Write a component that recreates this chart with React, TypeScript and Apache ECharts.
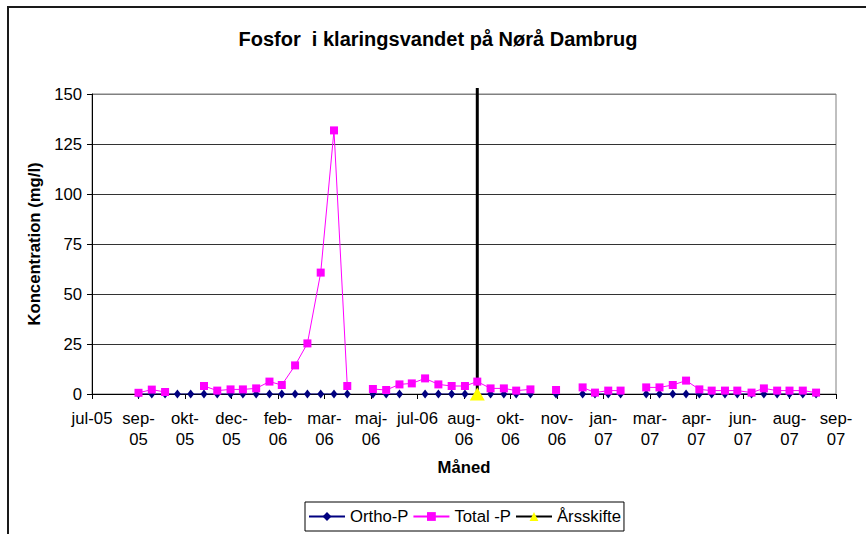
import React, { useEffect, useRef } from "react";
import * as echarts from "echarts";

// Axis tick labels (x axis: every 49 days from the jul-05 start)
const tickLabels = [
  "jul-05", "sep-\n05", "okt-\n05", "dec-\n05", "feb-\n06", "mar-\n06", "maj-\n06", "jul-06",
  "aug-\n06", "okt-\n06", "nov-\n06", "jan-\n07", "mar-\n07", "apr-\n07", "jun-\n07", "aug-\n07", "sep-\n07",
];
const tickStepDays = 49;

// Sample days (days after the jul-05 axis start)
const sampleDays = [
  49, 63, 77, 90, 104, 118, 132, 146, 159, 173, 187, 200, 214, 227, 241, 255, 269, 282,
  296, 310, 324, 337, 351, 365, 379, 393, 406, 420, 434, 447, 462, 475, 489, 503, 517, 530,
  544, 557, 570, 584, 598, 612, 626, 640, 653, 667, 680, 695, 708, 722, 735, 749, 763,
];

// Ortho-P (mg/l)
const orthoP = [
  0, 0, 0, 0, 0, 0, 0, 0, 0, 0, 0, 0, 0, 0, 0, 0, 0, null,
  0, 0, 0, null, 0, 0, 0, 0, 0, 0, 0, 0, 0, null, 0, null, 0, 0,
  0, 0, null, 0, 0, 0, 0, 0, 0, 0, 0, 0, 0, 0, 0, 0, 0,
];

// Total -P (mg/l)
const totalP = [
  0.6, 2.2, 1.0, null, null, 4.0, 1.7, 2.3, 2.3, 2.8, 6.2, 4.5, 14.3, 25.3, 60.7, 131.8, 4.0, null,
  2.5, 2.0, 4.8, 5.3, 7.8, 4.8, 4.0, 4.0, 6.2, 2.8, 2.8, 1.7, 2.3, null, 2.0, null, 3.3, 0.7,
  1.7, 1.7, null, 3.3, 3.3, 4.5, 6.7, 2.3, 1.7, 1.7, 1.7, 0.7, 2.8, 1.7, 1.7, 1.7, 0.7,
];

// Årsskifte (year change) marker
const yearChangeDays = [406, 406];
const yearChangeValues = [0, 153];

const FONT = "'Liberation Sans', Arial, sans-serif";

export default function App() {
  const ref = useRef<HTMLDivElement>(null);

  useEffect(() => {
    document.body.style.margin = "0";
    if (!ref.current) return;
    const chart = echarts.init(ref.current, null, { renderer: "svg" });

    const toData = (vals: (number | null)[]) =>
      sampleDays.map((d, i) => [d, vals[i] == null ? "-" : vals[i]]);

    const option: any = {
      animation: false,
      backgroundColor: "#ffffff",
      textStyle: { fontFamily: FONT, color: "#000" },
      graphic: [
        {
          type: "rect",
          shape: { x: 8, y: 7, width: 900, height: 600 },
          style: { fill: "none", stroke: "#1a1a1a", lineWidth: 2 },
          silent: true,
          z: 0,
        },
        {
          type: "text",
          x: 438,
          y: 39,
          style: {
            text: "Fosfor  i klaringsvandet på Nørå Dambrug",
            fontFamily: FONT,
            fontSize: 20,
            fontWeight: "bold",
            fill: "#000",
            textAlign: "center",
            textVerticalAlign: "middle",
          },
          z: 10,
        },
      ],
      grid: {
        left: 92,
        right: 30,
        top: 94,
        bottom: 140,
        show: true,
        borderColor: "#808080",
        borderWidth: 1,
        backgroundColor: "#fff",
      },
      legend: {
        left: 305,
        top: 502,
        orient: "horizontal",
        borderColor: "#000",
        borderWidth: 1,
        padding: [6, 3, 6, 3],
        itemWidth: 36,
        itemHeight: 11,
        itemGap: 4,
        textStyle: { fontFamily: FONT, fontSize: 16.7, color: "#000" },
        data: ["Ortho-P", "Total -P", "Årsskifte"],
      },
      xAxis: {
        type: "value",
        min: 0,
        max: tickStepDays * (tickLabels.length - 1),
        interval: tickStepDays,
        name: "Måned",
        nameLocation: "middle",
        nameGap: 65,
        nameTextStyle: { fontFamily: FONT, fontSize: 16.7, fontWeight: "bold", color: "#000" },
        axisLine: { show: true, lineStyle: { color: "#000", width: 1 } },
        axisTick: { show: true, length: 5, lineStyle: { color: "#000" } },
        axisLabel: {
          fontFamily: FONT,
          fontSize: 16.7,
          color: "#000",
          margin: 14,
          lineHeight: 21,
          showMinLabel: true,
          showMaxLabel: true,
          formatter: (v: number) => tickLabels[Math.round(v / tickStepDays)] ?? "",
        },
        splitLine: { show: false },
      },
      yAxis: {
        type: "value",
        min: 0,
        max: 150,
        interval: 25,
        name: "Koncentration (mg/l)",
        nameLocation: "middle",
        nameGap: 47,
        nameTextStyle: { fontFamily: FONT, fontSize: 16.7, fontWeight: "bold", color: "#000" },
        axisLine: { show: true, lineStyle: { color: "#000", width: 1 } },
        axisTick: { show: true, length: 5, lineStyle: { color: "#000" } },
        axisLabel: { fontFamily: FONT, fontSize: 16.7, color: "#000", margin: 10 },
        splitLine: {
          show: true,
          lineStyle: {
            color: ["#333", "#333", "#333", "#333", "#333", "#333", "#808080"],
            width: 1,
          },
        },
      },
      series: [
        {
          name: "Ortho-P",
          type: "line",
          data: toData(orthoP),
          symbol: "diamond",
          symbolSize: [7, 9],
          showAllSymbol: true,
          connectNulls: false,
          lineStyle: { color: "#000080", width: 1 },
          itemStyle: { color: "#000080" },
          z: 2,
        },
        {
          name: "Total -P",
          type: "line",
          data: toData(totalP),
          symbol: "rect",
          symbolSize: 8,
          showAllSymbol: true,
          connectNulls: false,
          lineStyle: { color: "#ff00ff", width: 1 },
          itemStyle: { color: "#ff00ff" },
          z: 4,
        },
        {
          name: "Årsskifte",
          type: "line",
          clip: false,
          data: yearChangeDays.map((d, i) =>
            i === 0
              ? { value: [d, yearChangeValues[i]] }
              : { value: [d, yearChangeValues[i]], symbol: "none" }
          ),
          symbol: "triangle",
          symbolSize: [15, 13],
          lineStyle: { color: "#000", width: 3 },
          itemStyle: { color: "#ffff00" },
          z: 3,
        },
      ],
    };

    chart.setOption(option);
    return () => chart.dispose();
  }, []);

  return <div ref={ref} style={{ width: 866, height: 534 }} />;
}
